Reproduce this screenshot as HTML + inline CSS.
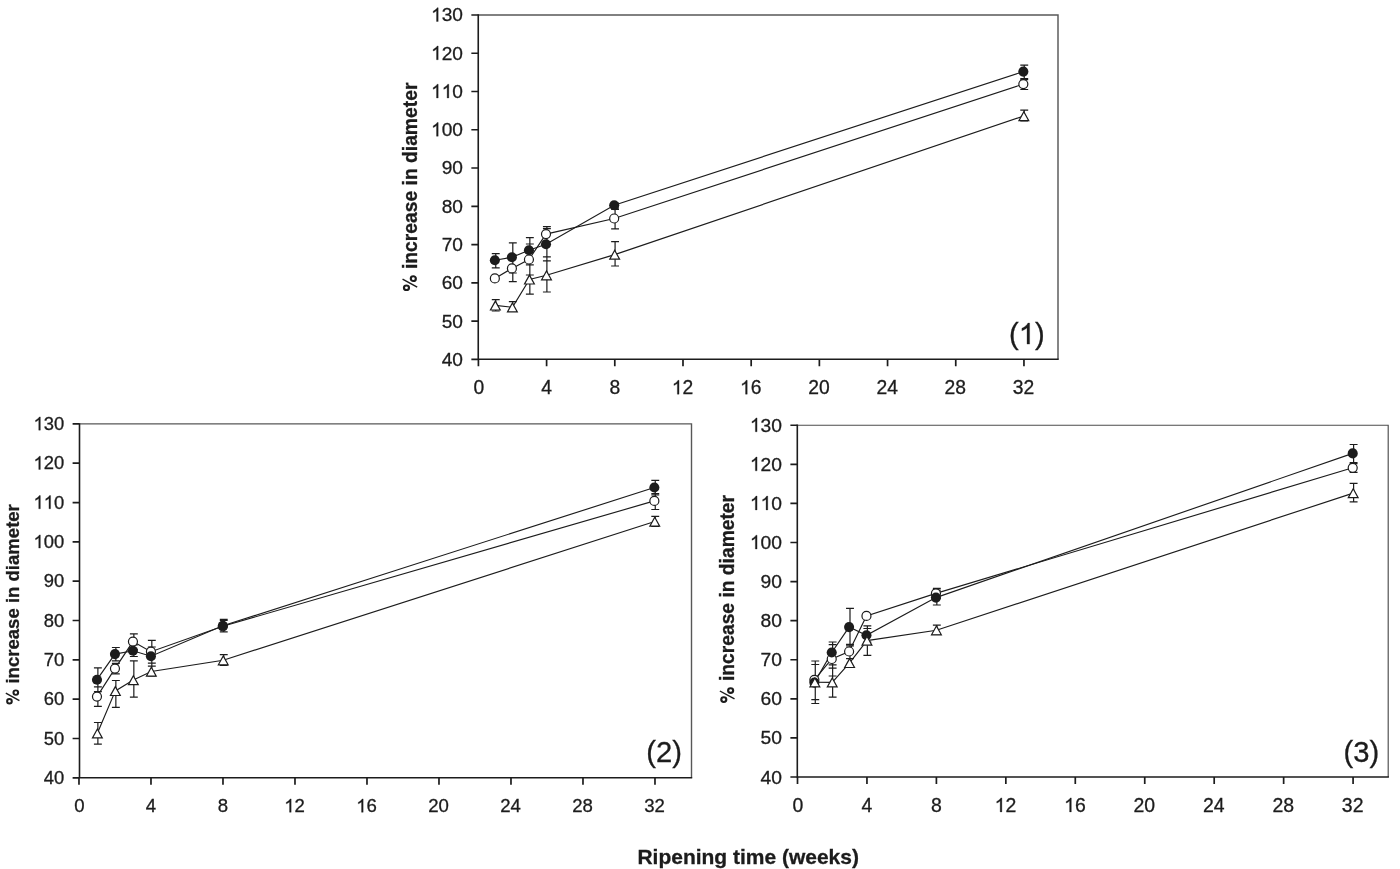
<!DOCTYPE html>
<html><head><meta charset="utf-8"><title>Ripening time chart</title>
<style>html,body{margin:0;padding:0;background:#fff}svg{display:block;will-change:transform}text{font-family:"Liberation Sans",sans-serif;fill:#1c1c1c;stroke:#1c1c1c;stroke-width:0.3px}</style>
</head><body>
<svg width="1400" height="869" viewBox="0 0 1400 869">
<rect width="1400" height="869" fill="#ffffff"/>
<g id="panel1">
<path d="M478.25 15 H1058 V359.3" fill="none" stroke="#585858" stroke-width="1.45"/>
<path d="M478.25 14.3 V359.3 H1058.7" fill="none" stroke="#1c1c1c" stroke-width="1.6" stroke-linejoin="miter"/>
<path d="M763 0H583V1147Q518 1085 412.5 1023T223 930V1104Q374 1175 487 1276T647 1472H763Z" transform="translate(431.08 21.47) scale(0.00933 -0.00933)" fill="#1c1c1c" stroke="#1c1c1c" stroke-width="0.3" vector-effect="non-scaling-stroke"/><text x="441.7" y="21.47" font-size="19.1">30</text>
<path d="M763 0H583V1147Q518 1085 412.5 1023T223 930V1104Q374 1175 487 1276T647 1472H763Z" transform="translate(431.08 59.72) scale(0.00933 -0.00933)" fill="#1c1c1c" stroke="#1c1c1c" stroke-width="0.3" vector-effect="non-scaling-stroke"/><text x="441.7" y="59.72" font-size="19.1">20</text>
<path d="M763 0H583V1147Q518 1085 412.5 1023T223 930V1104Q374 1175 487 1276T647 1472H763Z" transform="translate(431.08 97.98) scale(0.00933 -0.00933)" fill="#1c1c1c" stroke="#1c1c1c" stroke-width="0.3" vector-effect="non-scaling-stroke"/><path d="M763 0H583V1147Q518 1085 412.5 1023T223 930V1104Q374 1175 487 1276T647 1472H763Z" transform="translate(441.7 97.98) scale(0.00933 -0.00933)" fill="#1c1c1c" stroke="#1c1c1c" stroke-width="0.3" vector-effect="non-scaling-stroke"/><text x="452.33" y="97.98" font-size="19.1">0</text>
<path d="M763 0H583V1147Q518 1085 412.5 1023T223 930V1104Q374 1175 487 1276T647 1472H763Z" transform="translate(431.08 136.23) scale(0.00933 -0.00933)" fill="#1c1c1c" stroke="#1c1c1c" stroke-width="0.3" vector-effect="non-scaling-stroke"/><text x="441.7" y="136.23" font-size="19.1">00</text>
<text x="441.7" y="174.49" font-size="19.1">90</text>
<text x="441.7" y="212.74" font-size="19.1">80</text>
<text x="441.7" y="251" font-size="19.1">70</text>
<text x="441.7" y="289.25" font-size="19.1">60</text>
<text x="441.7" y="327.51" font-size="19.1">50</text>
<text x="441.7" y="365.77" font-size="19.1">40</text>
<text x="473.44" y="394.2" font-size="19.3">0</text>
<text x="541.24" y="394.2" font-size="19.3">4</text>
<text x="609.43" y="394.2" font-size="19.3">8</text>
<path d="M763 0H583V1147Q518 1085 412.5 1023T223 930V1104Q374 1175 487 1276T647 1472H763Z" transform="translate(671.85 394.2) scale(0.00942 -0.00942)" fill="#1c1c1c" stroke="#1c1c1c" stroke-width="0.3" vector-effect="non-scaling-stroke"/><text x="682.59" y="394.2" font-size="19.3">2</text>
<path d="M763 0H583V1147Q518 1085 412.5 1023T223 930V1104Q374 1175 487 1276T647 1472H763Z" transform="translate(740.04 394.2) scale(0.00942 -0.00942)" fill="#1c1c1c" stroke="#1c1c1c" stroke-width="0.3" vector-effect="non-scaling-stroke"/><text x="750.78" y="394.2" font-size="19.3">6</text>
<text x="808.24" y="394.2" font-size="19.3">20</text>
<text x="876.43" y="394.2" font-size="19.3">24</text>
<text x="944.62" y="394.2" font-size="19.3">28</text>
<text x="1012.81" y="394.2" font-size="19.3">32</text>
<path d="M478.25 15 H471.35 M478.25 53.26 H471.35 M478.25 91.51 H471.35 M478.25 129.77 H471.35 M478.25 168.02 H471.35 M478.25 206.28 H471.35 M478.25 244.53 H471.35 M478.25 282.79 H471.35 M478.25 321.04 H471.35 M478.25 359.3 H471.35 M478.41 359.3 V366.2 M546.6 359.3 V366.2 M614.79 359.3 V366.2 M682.99 359.3 V366.2 M751.18 359.3 V366.2 M819.37 359.3 V366.2 M887.56 359.3 V366.2 M955.75 359.3 V366.2 M1023.95 359.3 V366.2" fill="none" stroke="#1c1c1c" stroke-width="1.7"/>
<g transform="translate(417 187.2) scale(1.07 1) rotate(-90)"><circle cx="-100.54" cy="-9.84" r="2.35" fill="none" stroke="#1c1c1c" stroke-width="2.03"/><circle cx="-91.47" cy="-3.44" r="2.35" fill="none" stroke="#1c1c1c" stroke-width="2.03"/><path d="M-99.86 0.19 L-91.95 -13.51" fill="none" stroke="#1c1c1c" stroke-width="1.35"/><text x="104.59" y="0" font-size="19.3" font-weight="bold" stroke="none" text-anchor="end" style="white-space:pre"> increase in diameter</text></g>
<text x="1009" y="344.1" font-size="29.2">(</text><path d="M763 0H583V1147Q518 1085 412.5 1023T223 930V1104Q374 1175 487 1276T647 1472H763Z" transform="translate(1018.72 344.1) scale(0.01426 -0.01426)" fill="#1c1c1c" stroke="#1c1c1c" stroke-width="0.3" vector-effect="non-scaling-stroke"/><text x="1034.96" y="344.1" font-size="29.2">)</text>
<polyline points="494.85,278.4 511.9,268.4 528.94,259.5 545.99,234.1 614.18,218.5 1023.34,84.1" fill="none" stroke="#1c1c1c" stroke-width="1.15"/>
<polyline points="494.85,260.3 511.9,257.3 528.94,250.3 545.99,244.2 614.18,205.2 1023.34,71.6" fill="none" stroke="#1c1c1c" stroke-width="1.15"/>
<polyline points="495.35,305.4 512.4,307.3 529.44,279.4 546.49,275.2 614.68,254.6 1023.84,116" fill="none" stroke="#1c1c1c" stroke-width="1.15"/>
<path d="M512.8 255.2 V281.7 M508.85 255.2 H516.75 M508.85 281.7 H516.75 M529.84 244 V275 M525.89 244 H533.79 M525.89 275 H533.79 M546.89 226.7 V241.5 M542.94 226.7 H550.84 M542.94 241.5 H550.84 M615.08 208.2 V228.8 M611.13 208.2 H619.03 M611.13 228.8 H619.03 M1024.24 79.7 V89.5 M1020.29 79.7 H1028.19 M1020.29 89.5 H1028.19 M495.75 253.7 V267.8 M491.8 253.7 H499.7 M491.8 267.8 H499.7 M512.8 242.8 V273 M508.85 242.8 H516.75 M508.85 273 H516.75 M529.84 237.6 V264.9 M525.89 237.6 H533.79 M525.89 264.9 H533.79 M546.89 228.7 V260.9 M542.94 228.7 H550.84 M542.94 260.9 H550.84 M615.08 203 V209.5 M611.13 203 H619.03 M611.13 209.5 H619.03 M1024.24 65.1 V78.5 M1020.29 65.1 H1028.19 M1020.29 78.5 H1028.19 M495.75 299.6 V311 M491.8 299.6 H499.7 M491.8 311 H499.7 M512.8 301.7 V311.2 M508.85 301.7 H516.75 M508.85 311.2 H516.75 M529.84 264.9 V294.1 M525.89 264.9 H533.79 M525.89 294.1 H533.79 M546.89 256.9 V292 M542.94 256.9 H550.84 M542.94 292 H550.84 M615.08 241.7 V266 M611.13 241.7 H619.03 M611.13 266 H619.03 M1024.24 110.2 V121 M1020.29 110.2 H1028.19 M1020.29 121 H1028.19" fill="none" stroke="#1c1c1c" stroke-width="1.2"/>
<circle cx="494.85" cy="278.4" r="4.5" fill="#fff" stroke="#1c1c1c" stroke-width="1.2"/>
<circle cx="511.9" cy="268.4" r="4.5" fill="#fff" stroke="#1c1c1c" stroke-width="1.2"/>
<circle cx="528.94" cy="259.5" r="4.5" fill="#fff" stroke="#1c1c1c" stroke-width="1.2"/>
<circle cx="545.99" cy="234.1" r="4.5" fill="#fff" stroke="#1c1c1c" stroke-width="1.2"/>
<circle cx="614.18" cy="218.5" r="4.5" fill="#fff" stroke="#1c1c1c" stroke-width="1.2"/>
<circle cx="1023.34" cy="84.1" r="4.5" fill="#fff" stroke="#1c1c1c" stroke-width="1.2"/>
<circle cx="494.85" cy="260.3" r="5.05" fill="#1c1c1c"/>
<circle cx="511.9" cy="257.3" r="5.05" fill="#1c1c1c"/>
<circle cx="528.94" cy="250.3" r="5.05" fill="#1c1c1c"/>
<circle cx="545.99" cy="244.2" r="5.05" fill="#1c1c1c"/>
<circle cx="614.18" cy="205.2" r="5.05" fill="#1c1c1c"/>
<circle cx="1023.34" cy="71.6" r="5.05" fill="#1c1c1c"/>
<path d="M495.35 301.1 L500.25 310 L490.45 310 Z" fill="#fff" stroke="#1c1c1c" stroke-width="1.2" stroke-linejoin="miter"/>
<path d="M512.4 303 L517.3 311.9 L507.5 311.9 Z" fill="#fff" stroke="#1c1c1c" stroke-width="1.2" stroke-linejoin="miter"/>
<path d="M529.44 275.1 L534.34 284 L524.54 284 Z" fill="#fff" stroke="#1c1c1c" stroke-width="1.2" stroke-linejoin="miter"/>
<path d="M546.49 270.9 L551.39 279.8 L541.59 279.8 Z" fill="#fff" stroke="#1c1c1c" stroke-width="1.2" stroke-linejoin="miter"/>
<path d="M614.68 250.3 L619.58 259.2 L609.78 259.2 Z" fill="#fff" stroke="#1c1c1c" stroke-width="1.2" stroke-linejoin="miter"/>
<path d="M1023.84 111.7 L1028.74 120.6 L1018.94 120.6 Z" fill="#fff" stroke="#1c1c1c" stroke-width="1.2" stroke-linejoin="miter"/>
</g>
<g id="panel2">
<path d="M79.5 423.9 H691.5 V777.8" fill="none" stroke="#585858" stroke-width="1.4"/>
<path d="M79.5 423.2 V777.8 H692.2" fill="none" stroke="#1c1c1c" stroke-width="1.6" stroke-linejoin="miter"/>
<path d="M763 0H583V1147Q518 1085 412.5 1023T223 930V1104Q374 1175 487 1276T647 1472H763Z" transform="translate(33.5 430.13) scale(0.00898 -0.00898)" fill="#1c1c1c" stroke="#1c1c1c" stroke-width="0.3" vector-effect="non-scaling-stroke"/><text x="43.73" y="430.13" font-size="18.4">30</text>
<path d="M763 0H583V1147Q518 1085 412.5 1023T223 930V1104Q374 1175 487 1276T647 1472H763Z" transform="translate(33.5 469.45) scale(0.00898 -0.00898)" fill="#1c1c1c" stroke="#1c1c1c" stroke-width="0.3" vector-effect="non-scaling-stroke"/><text x="43.73" y="469.45" font-size="18.4">20</text>
<path d="M763 0H583V1147Q518 1085 412.5 1023T223 930V1104Q374 1175 487 1276T647 1472H763Z" transform="translate(33.5 508.78) scale(0.00898 -0.00898)" fill="#1c1c1c" stroke="#1c1c1c" stroke-width="0.3" vector-effect="non-scaling-stroke"/><path d="M763 0H583V1147Q518 1085 412.5 1023T223 930V1104Q374 1175 487 1276T647 1472H763Z" transform="translate(43.73 508.78) scale(0.00898 -0.00898)" fill="#1c1c1c" stroke="#1c1c1c" stroke-width="0.3" vector-effect="non-scaling-stroke"/><text x="53.97" y="508.78" font-size="18.4">0</text>
<path d="M763 0H583V1147Q518 1085 412.5 1023T223 930V1104Q374 1175 487 1276T647 1472H763Z" transform="translate(33.5 548.1) scale(0.00898 -0.00898)" fill="#1c1c1c" stroke="#1c1c1c" stroke-width="0.3" vector-effect="non-scaling-stroke"/><text x="43.73" y="548.1" font-size="18.4">00</text>
<text x="43.73" y="587.42" font-size="18.4">90</text>
<text x="43.73" y="626.74" font-size="18.4">80</text>
<text x="43.73" y="666.06" font-size="18.4">70</text>
<text x="43.73" y="705.39" font-size="18.4">60</text>
<text x="43.73" y="744.71" font-size="18.4">50</text>
<text x="43.73" y="784.03" font-size="18.4">40</text>
<text x="74.21" y="812.3" font-size="18.6">0</text>
<text x="145.81" y="812.3" font-size="18.6">4</text>
<text x="217.81" y="812.3" font-size="18.6">8</text>
<path d="M763 0H583V1147Q518 1085 412.5 1023T223 930V1104Q374 1175 487 1276T647 1472H763Z" transform="translate(284.24 812.3) scale(0.00908 -0.00908)" fill="#1c1c1c" stroke="#1c1c1c" stroke-width="0.3" vector-effect="non-scaling-stroke"/><text x="294.58" y="812.3" font-size="18.6">2</text>
<path d="M763 0H583V1147Q518 1085 412.5 1023T223 930V1104Q374 1175 487 1276T647 1472H763Z" transform="translate(356.24 812.3) scale(0.00908 -0.00908)" fill="#1c1c1c" stroke="#1c1c1c" stroke-width="0.3" vector-effect="non-scaling-stroke"/><text x="366.58" y="812.3" font-size="18.6">6</text>
<text x="428.24" y="812.3" font-size="18.6">20</text>
<text x="500.24" y="812.3" font-size="18.6">24</text>
<text x="572.24" y="812.3" font-size="18.6">28</text>
<text x="644.24" y="812.3" font-size="18.6">32</text>
<path d="M79.5 423.9 H72.6 M79.5 463.22 H72.6 M79.5 502.54 H72.6 M79.5 541.87 H72.6 M79.5 581.19 H72.6 M79.5 620.51 H72.6 M79.5 659.83 H72.6 M79.5 699.16 H72.6 M79.5 738.48 H72.6 M79.5 777.8 H72.6 M78.98 777.8 V784.7 M150.98 777.8 V784.7 M222.98 777.8 V784.7 M294.98 777.8 V784.7 M366.98 777.8 V784.7 M438.98 777.8 V784.7 M510.98 777.8 V784.7 M582.98 777.8 V784.7 M654.98 777.8 V784.7" fill="none" stroke="#1c1c1c" stroke-width="1.7"/>
<g transform="translate(19.2 604.7) scale(1.03 1) rotate(-90)"><circle cx="-96.63" cy="-9.46" r="2.26" fill="none" stroke="#1c1c1c" stroke-width="1.95"/><circle cx="-87.91" cy="-3.3" r="2.26" fill="none" stroke="#1c1c1c" stroke-width="1.95"/><path d="M-95.98 0.19 L-88.38 -12.98" fill="none" stroke="#1c1c1c" stroke-width="1.3"/><text x="100.53" y="0" font-size="18.55" font-weight="bold" stroke="none" text-anchor="end" style="white-space:pre"> increase in diameter</text></g>
<text x="646.2" y="762.1" font-size="29.2">(2)</text>
<polyline points="96.98,696.6 114.96,668.6 132.94,641.6 150.92,651.7 222.84,626.3 654.36,500.9" fill="none" stroke="#1c1c1c" stroke-width="1.15"/>
<polyline points="96.98,679.7 114.96,654.1 132.94,650.8 150.92,656.2 222.84,625.8 654.36,487.5" fill="none" stroke="#1c1c1c" stroke-width="1.15"/>
<polyline points="97.38,733.3 115.36,690.9 133.34,680 151.32,671.5 223.24,660.2 654.76,521.5" fill="none" stroke="#1c1c1c" stroke-width="1.15"/>
<path d="M97.88 686.9 V706.3 M93.93 686.9 H101.83 M93.93 706.3 H101.83 M115.86 663.3 V673.9 M111.91 663.3 H119.81 M111.91 673.9 H119.81 M133.84 633.8 V649.4 M129.89 633.8 H137.79 M129.89 649.4 H137.79 M151.82 640.3 V663.1 M147.87 640.3 H155.77 M147.87 663.1 H155.77 M223.74 620.5 V632 M219.79 620.5 H227.69 M219.79 632 H227.69 M655.26 493.5 V509.5 M651.31 493.5 H659.21 M651.31 509.5 H659.21 M97.88 667.8 V691.6 M93.93 667.8 H101.83 M93.93 691.6 H101.83 M115.86 647.5 V660.8 M111.91 647.5 H119.81 M111.91 660.8 H119.81 M133.84 645 V656.5 M129.89 645 H137.79 M129.89 656.5 H137.79 M151.82 647 V666.2 M147.87 647 H155.77 M147.87 666.2 H155.77 M223.74 619.3 V631.9 M219.79 619.3 H227.69 M219.79 631.9 H227.69 M655.26 480.4 V494.9 M651.31 480.4 H659.21 M651.31 494.9 H659.21 M97.88 722.5 V744.1 M93.93 722.5 H101.83 M93.93 744.1 H101.83 M115.86 680.5 V707.3 M111.91 680.5 H119.81 M111.91 707.3 H119.81 M133.84 660.9 V697.1 M129.89 660.9 H137.79 M129.89 697.1 H137.79 M151.82 666.2 V675.8 M147.87 666.2 H155.77 M147.87 675.8 H155.77 M223.74 654.7 V665.4 M219.79 654.7 H227.69 M219.79 665.4 H227.69 M655.26 516.4 V526.4 M651.31 516.4 H659.21 M651.31 526.4 H659.21" fill="none" stroke="#1c1c1c" stroke-width="1.2"/>
<circle cx="96.98" cy="696.6" r="4.5" fill="#fff" stroke="#1c1c1c" stroke-width="1.2"/>
<circle cx="114.96" cy="668.6" r="4.5" fill="#fff" stroke="#1c1c1c" stroke-width="1.2"/>
<circle cx="132.94" cy="641.6" r="4.5" fill="#fff" stroke="#1c1c1c" stroke-width="1.2"/>
<circle cx="150.92" cy="651.7" r="4.5" fill="#fff" stroke="#1c1c1c" stroke-width="1.2"/>
<circle cx="222.84" cy="626.3" r="4.5" fill="#fff" stroke="#1c1c1c" stroke-width="1.2"/>
<circle cx="654.36" cy="500.9" r="4.5" fill="#fff" stroke="#1c1c1c" stroke-width="1.2"/>
<circle cx="96.98" cy="679.7" r="5.05" fill="#1c1c1c"/>
<circle cx="114.96" cy="654.1" r="5.05" fill="#1c1c1c"/>
<circle cx="132.94" cy="650.8" r="5.05" fill="#1c1c1c"/>
<circle cx="150.92" cy="656.2" r="5.05" fill="#1c1c1c"/>
<circle cx="222.84" cy="625.8" r="5.05" fill="#1c1c1c"/>
<circle cx="654.36" cy="487.5" r="5.05" fill="#1c1c1c"/>
<path d="M97.38 729 L102.28 737.9 L92.48 737.9 Z" fill="#fff" stroke="#1c1c1c" stroke-width="1.2" stroke-linejoin="miter"/>
<path d="M115.36 686.6 L120.26 695.5 L110.46 695.5 Z" fill="#fff" stroke="#1c1c1c" stroke-width="1.2" stroke-linejoin="miter"/>
<path d="M133.34 675.7 L138.24 684.6 L128.44 684.6 Z" fill="#fff" stroke="#1c1c1c" stroke-width="1.2" stroke-linejoin="miter"/>
<path d="M151.32 667.2 L156.22 676.1 L146.42 676.1 Z" fill="#fff" stroke="#1c1c1c" stroke-width="1.2" stroke-linejoin="miter"/>
<path d="M223.24 655.9 L228.14 664.8 L218.34 664.8 Z" fill="#fff" stroke="#1c1c1c" stroke-width="1.2" stroke-linejoin="miter"/>
<path d="M654.76 517.2 L659.66 526.1 L649.86 526.1 Z" fill="#fff" stroke="#1c1c1c" stroke-width="1.2" stroke-linejoin="miter"/>
</g>
<g id="panel3">
<path d="M797.3 425.25 H1388.2 V777" fill="none" stroke="#4c4c4c" stroke-width="1.15"/>
<path d="M797.3 424.55 V777 H1388.9" fill="none" stroke="#1c1c1c" stroke-width="1.6" stroke-linejoin="miter"/>
<path d="M763 0H583V1147Q518 1085 412.5 1023T223 930V1104Q374 1175 487 1276T647 1472H763Z" transform="translate(749.88 431.77) scale(0.00940 -0.00940)" fill="#1c1c1c" stroke="#1c1c1c" stroke-width="0.3" vector-effect="non-scaling-stroke"/><text x="760.59" y="431.77" font-size="19.25">30</text>
<path d="M763 0H583V1147Q518 1085 412.5 1023T223 930V1104Q374 1175 487 1276T647 1472H763Z" transform="translate(749.88 470.85) scale(0.00940 -0.00940)" fill="#1c1c1c" stroke="#1c1c1c" stroke-width="0.3" vector-effect="non-scaling-stroke"/><text x="760.59" y="470.85" font-size="19.25">20</text>
<path d="M763 0H583V1147Q518 1085 412.5 1023T223 930V1104Q374 1175 487 1276T647 1472H763Z" transform="translate(749.88 509.93) scale(0.00940 -0.00940)" fill="#1c1c1c" stroke="#1c1c1c" stroke-width="0.3" vector-effect="non-scaling-stroke"/><path d="M763 0H583V1147Q518 1085 412.5 1023T223 930V1104Q374 1175 487 1276T647 1472H763Z" transform="translate(760.59 509.93) scale(0.00940 -0.00940)" fill="#1c1c1c" stroke="#1c1c1c" stroke-width="0.3" vector-effect="non-scaling-stroke"/><text x="771.29" y="509.93" font-size="19.25">0</text>
<path d="M763 0H583V1147Q518 1085 412.5 1023T223 930V1104Q374 1175 487 1276T647 1472H763Z" transform="translate(749.88 549.02) scale(0.00940 -0.00940)" fill="#1c1c1c" stroke="#1c1c1c" stroke-width="0.3" vector-effect="non-scaling-stroke"/><text x="760.59" y="549.02" font-size="19.25">00</text>
<text x="760.59" y="588.1" font-size="19.25">90</text>
<text x="760.59" y="627.18" font-size="19.25">80</text>
<text x="760.59" y="666.27" font-size="19.25">70</text>
<text x="760.59" y="705.35" font-size="19.25">60</text>
<text x="760.59" y="744.43" font-size="19.25">50</text>
<text x="760.59" y="783.52" font-size="19.25">40</text>
<text x="792.49" y="811.9" font-size="19.45">0</text>
<text x="861.54" y="811.9" font-size="19.45">4</text>
<text x="930.99" y="811.9" font-size="19.45">8</text>
<path d="M763 0H583V1147Q518 1085 412.5 1023T223 930V1104Q374 1175 487 1276T647 1472H763Z" transform="translate(994.63 811.9) scale(0.00950 -0.00950)" fill="#1c1c1c" stroke="#1c1c1c" stroke-width="0.3" vector-effect="non-scaling-stroke"/><text x="1005.44" y="811.9" font-size="19.45">2</text>
<path d="M763 0H583V1147Q518 1085 412.5 1023T223 930V1104Q374 1175 487 1276T647 1472H763Z" transform="translate(1064.07 811.9) scale(0.00950 -0.00950)" fill="#1c1c1c" stroke="#1c1c1c" stroke-width="0.3" vector-effect="non-scaling-stroke"/><text x="1074.89" y="811.9" font-size="19.45">6</text>
<text x="1133.52" y="811.9" font-size="19.45">20</text>
<text x="1202.97" y="811.9" font-size="19.45">24</text>
<text x="1272.42" y="811.9" font-size="19.45">28</text>
<text x="1341.87" y="811.9" font-size="19.45">32</text>
<path d="M797.3 425.25 H790.4 M797.3 464.33 H790.4 M797.3 503.42 H790.4 M797.3 542.5 H790.4 M797.3 581.58 H790.4 M797.3 620.67 H790.4 M797.3 659.75 H790.4 M797.3 698.83 H790.4 M797.3 737.92 H790.4 M797.3 777 H790.4 M797.5 777 V783.9 M866.95 777 V783.9 M936.4 777 V783.9 M1005.84 777 V783.9 M1075.29 777 V783.9 M1144.74 777 V783.9 M1214.19 777 V783.9 M1283.64 777 V783.9 M1353.08 777 V783.9" fill="none" stroke="#1c1c1c" stroke-width="1.7"/>
<g transform="translate(734.3 599.3) scale(1.07 1) rotate(-90)"><circle cx="-100.28" cy="-9.82" r="2.35" fill="none" stroke="#1c1c1c" stroke-width="2.02"/><circle cx="-91.23" cy="-3.43" r="2.35" fill="none" stroke="#1c1c1c" stroke-width="2.02"/><path d="M-99.6 0.19 L-91.71 -13.47" fill="none" stroke="#1c1c1c" stroke-width="1.35"/><text x="104.32" y="0" font-size="19.25" font-weight="bold" stroke="none" text-anchor="end" style="white-space:pre"> increase in diameter</text></g>
<text x="1343.5" y="762.1" font-size="29.2">(3)</text>
<polyline points="814.37,679.8 831.73,659 849.1,651.5 866.46,615.9 935.93,593.4 1352.71,467.8" fill="none" stroke="#1c1c1c" stroke-width="1.15"/>
<polyline points="814.37,682.6 831.73,652.5 849.1,627.1 866.46,635.3 935.93,597.6 1352.71,453.4" fill="none" stroke="#1c1c1c" stroke-width="1.15"/>
<polyline points="814.87,682.2 832.23,682.3 849.6,662.9 866.96,640.6 936.43,630.2 1353.21,493.1" fill="none" stroke="#1c1c1c" stroke-width="1.15"/>
<path d="M815.27 664.5 V699.6 M811.32 664.5 H819.22 M811.32 699.6 H819.22 M832.63 644.6 V676 M828.68 644.6 H836.58 M828.68 676 H836.58 M850 644.3 V658.7 M846.05 644.3 H853.95 M846.05 658.7 H853.95 M936.83 588.4 V598.4 M932.88 588.4 H940.78 M932.88 598.4 H940.78 M1353.61 463.7 V472.4 M1349.66 463.7 H1357.56 M1349.66 472.4 H1357.56 M815.27 661 V703.5 M811.32 661 H819.22 M811.32 703.5 H819.22 M832.63 642 V664.8 M828.68 642 H836.58 M828.68 664.8 H836.58 M850 608.4 V645.8 M846.05 608.4 H853.95 M846.05 645.8 H853.95 M867.36 628.5 V642.1 M863.41 628.5 H871.31 M863.41 642.1 H871.31 M936.83 590.2 V605 M932.88 590.2 H940.78 M932.88 605 H940.78 M1353.61 444.5 V462.6 M1349.66 444.5 H1357.56 M1349.66 462.6 H1357.56 M832.63 668.1 V697.1 M828.68 668.1 H836.58 M828.68 697.1 H836.58 M867.36 625.8 V655.4 M863.41 625.8 H871.31 M863.41 655.4 H871.31 M936.83 625.2 V634.3 M932.88 625.2 H940.78 M932.88 634.3 H940.78 M1353.61 483.3 V501.9 M1349.66 483.3 H1357.56 M1349.66 501.9 H1357.56" fill="none" stroke="#1c1c1c" stroke-width="1.2"/>
<circle cx="814.37" cy="679.8" r="4.5" fill="#fff" stroke="#1c1c1c" stroke-width="1.2"/>
<circle cx="831.73" cy="659" r="4.5" fill="#fff" stroke="#1c1c1c" stroke-width="1.2"/>
<circle cx="849.1" cy="651.5" r="4.5" fill="#fff" stroke="#1c1c1c" stroke-width="1.2"/>
<circle cx="866.46" cy="615.9" r="4.5" fill="#fff" stroke="#1c1c1c" stroke-width="1.2"/>
<circle cx="935.93" cy="593.4" r="4.5" fill="#fff" stroke="#1c1c1c" stroke-width="1.2"/>
<circle cx="1352.71" cy="467.8" r="4.5" fill="#fff" stroke="#1c1c1c" stroke-width="1.2"/>
<circle cx="814.37" cy="682.6" r="5.05" fill="#1c1c1c"/>
<circle cx="831.73" cy="652.5" r="5.05" fill="#1c1c1c"/>
<circle cx="849.1" cy="627.1" r="5.05" fill="#1c1c1c"/>
<circle cx="866.46" cy="635.3" r="5.05" fill="#1c1c1c"/>
<circle cx="935.93" cy="597.6" r="5.05" fill="#1c1c1c"/>
<circle cx="1352.71" cy="453.4" r="5.05" fill="#1c1c1c"/>
<path d="M814.87 677.9 L819.77 686.8 L809.97 686.8 Z" fill="#fff" stroke="#1c1c1c" stroke-width="1.2" stroke-linejoin="miter"/>
<path d="M832.23 678 L837.13 686.9 L827.33 686.9 Z" fill="#fff" stroke="#1c1c1c" stroke-width="1.2" stroke-linejoin="miter"/>
<path d="M849.6 658.6 L854.5 667.5 L844.7 667.5 Z" fill="#fff" stroke="#1c1c1c" stroke-width="1.2" stroke-linejoin="miter"/>
<path d="M866.96 636.3 L871.86 645.2 L862.06 645.2 Z" fill="#fff" stroke="#1c1c1c" stroke-width="1.2" stroke-linejoin="miter"/>
<path d="M936.43 625.9 L941.33 634.8 L931.53 634.8 Z" fill="#fff" stroke="#1c1c1c" stroke-width="1.2" stroke-linejoin="miter"/>
<path d="M1353.21 488.8 L1358.11 497.7 L1348.31 497.7 Z" fill="#fff" stroke="#1c1c1c" stroke-width="1.2" stroke-linejoin="miter"/>
</g>
<text x="748.2" y="863.5" font-size="20.1" font-weight="bold" stroke="none" text-anchor="middle" textLength="221.5" lengthAdjust="spacingAndGlyphs">Ripening time (weeks)</text>
</svg></body></html>
